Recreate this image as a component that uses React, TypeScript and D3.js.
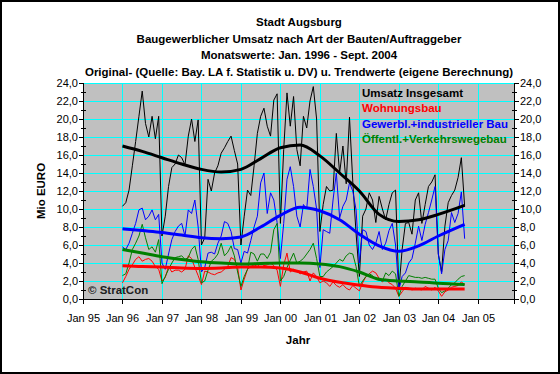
import { useRef, useEffect } from "react";
import * as d3 from "d3";

// monthly values Jan 1996 .. Sept 2004 (Mio EURO)
const firstMonth = 12; // months since Jan 1995
const totalValues = [
  10.3, 10.7, 12.1, 14.8, 17.5, 20.3, 23.1, 19.5, 18.0, 20.3, 17.8, 20.3,
  7.0, 9.2, 12.5, 14.6, 15.0, 16.0, 15.7, 14.9, 18.1, 20.0, 17.5, 19.9,
  6.0, 6.8, 13.3, 12.0, 14.0, 14.8, 16.2, 16.8, 17.5, 18.1, 16.5, 15.0,
  6.0, 9.2, 12.1, 11.5, 14.8, 18.4, 20.3, 21.2, 19.2, 18.1, 22.1, 22.8,
  8.4, 16.6, 22.9, 19.2, 22.5, 16.6, 14.8, 20.3, 19.0, 22.0, 23.6, 20.0,
  7.5, 10.5, 12.5, 12.0, 12.1, 18.4, 14.0, 17.0, 12.8, 20.2, 13.0, 7.3,
  2.5, 9.2, 10.0, 11.8, 11.0, 8.5, 11.4, 10.0, 8.8, 10.5, 11.8, 12.1,
  1.0, 5.5, 8.4, 8.5, 7.2, 11.0, 11.8, 8.4, 10.5, 12.5, 13.0, 13.8,
  5.0, 3.0, 8.1, 10.7, 11.5, 12.1, 13.5, 15.7, 10.3,
];
const wohnValues = [
  1.8, 2.5, 3.3, 3.8, 4.4, 4.7, 4.2, 4.4, 4.5, 4.2, 3.6, 3.3,
  2.0, 2.4, 3.6, 3.0, 3.2, 3.2, 3.0, 3.3, 4.8, 4.5, 3.5, 2.6,
  1.6, 3.1, 3.0, 2.8, 2.7, 2.9, 3.0, 3.3, 3.6, 4.6, 4.4, 3.5,
  1.0, 2.2, 3.3, 3.6, 3.8, 3.6, 4.0, 3.7, 3.8, 4.0, 3.7, 3.2,
  1.4, 3.8, 5.1, 3.0, 3.3, 3.1, 2.8, 3.0, 3.1, 2.0, 2.9, 2.5,
  1.8, 2.0, 1.8, 1.4, 1.9, 1.5, 1.3, 1.6, 1.2, 1.0, 1.5, 1.2,
  0.9, 1.8, 2.5, 2.8, 3.1, 2.9, 2.3, 1.9, 2.2, 1.8, 1.6, 1.2,
  0.3, 0.8, 1.3, 1.2, 1.0, 1.2, 1.1, 1.0, 1.4, 1.2, 1.0, 1.3,
  0.9, 0.3, 0.8, 1.0, 1.3, 1.4, 1.5, 1.9, 1.6,
];
const gewerbValues = [
  5.8, 5.5, 6.2, 7.3, 8.4, 9.9, 10.1, 8.8, 9.2, 9.9, 8.8, 9.4,
  4.0, 3.3, 5.0, 6.6, 7.5, 8.1, 8.4, 7.0, 9.9, 9.5, 11.0, 8.0,
  3.0, 3.5, 5.1, 5.2, 5.0, 6.2, 7.0, 8.6, 8.4, 7.5, 5.6, 5.5,
  4.0, 5.3, 5.1, 6.5, 8.0, 9.2, 12.9, 14.0, 9.5, 11.8, 11.0, 8.5,
  4.5, 8.4, 13.3, 14.7, 12.5, 9.2, 8.0, 10.5, 10.0, 14.4, 12.5, 10.0,
  3.5, 7.7, 7.5, 7.3, 11.0, 14.0, 9.0, 10.3, 11.0, 12.9, 12.0, 9.9,
  4.0, 7.7, 7.5, 6.0, 5.5, 6.2, 7.5, 5.5, 6.2, 7.6, 8.4, 6.0,
  1.0, 2.5, 2.9, 4.0, 4.5, 6.2, 8.1, 6.5, 8.3, 9.6, 11.0, 12.5,
  5.0, 2.8, 5.5, 6.5, 9.6, 8.5, 9.5, 11.9, 6.7,
];
const oeffValues = [
  2.6, 2.8, 4.0, 5.5, 6.2, 7.0, 8.3, 6.8, 5.5, 5.8, 5.2, 6.6,
  1.7, 2.5, 3.3, 4.0, 4.6, 4.7, 4.8, 4.4, 4.6, 5.5, 5.9, 4.4,
  1.8, 2.0, 3.2, 4.2, 4.5, 5.0, 6.2, 4.8, 5.2, 5.9, 4.8, 3.0,
  1.4, 2.5, 3.3, 5.2, 5.0, 4.2, 5.0, 5.0, 4.5, 5.2, 7.7, 8.4,
  2.0, 2.5, 3.5, 4.3, 5.1, 4.0, 4.2, 4.5, 5.0, 5.5, 6.2, 4.5,
  2.5, 2.5, 3.0, 3.3, 3.6, 4.0, 4.4, 4.2, 4.8, 5.1, 5.0, 3.6,
  1.4, 2.0, 2.5, 2.8, 2.6, 2.2, 2.1, 2.0, 2.9, 2.6, 3.1, 2.8,
  0.3, 1.4, 2.0, 2.6, 2.5, 2.4, 2.4, 2.3, 2.4, 2.3, 2.2, 2.2,
  1.2, 0.7, 0.9, 1.2, 1.6, 1.8, 2.2, 2.5, 2.6,
];

// trend (eigene Berechnung), read at half-year points
const trendMonths = [12, 18, 24, 30, 36, 42, 48, 54, 60, 66, 72, 78, 84, 90, 96, 102, 108, 116];
const totalTrend = [17.0, 16.4, 15.7, 15.0, 14.4, 14.1, 14.4, 15.6, 16.8, 17.1, 15.9, 14.0, 12.0, 9.4, 8.6, 8.8, 9.4, 10.4];
const wohnTrend = [3.7, 3.6, 3.55, 3.45, 3.4, 3.45, 3.55, 3.55, 3.45, 3.0, 2.3, 1.85, 1.55, 1.3, 1.2, 1.1, 1.1, 1.1];
const gewerbTrend = [7.8, 7.6, 7.4, 7.1, 6.8, 6.7, 6.9, 8.0, 9.3, 10.2, 9.8, 8.8, 7.2, 5.9, 5.3, 5.9, 7.0, 8.3];
const oeffTrend = [5.5, 5.1, 4.7, 4.4, 4.15, 4.0, 3.9, 3.95, 4.0, 4.0, 3.9, 3.6, 3.0, 2.2, 2.0, 1.9, 1.75, 1.6];

const seriesNames = ["Umsatz Insgesamt", "Wohnungsbau", "Gewerbl.+industrieller Bau", "Öffentl.+Verkehrswegebau"];
const seriesColors = ["#000000", "#ff0000", "#0000ff", "#008000"];
const yearLabels = ["Jan 95", "Jan 96", "Jan 97", "Jan 98", "Jan 99", "Jan 00", "Jan 01", "Jan 02", "Jan 03", "Jan 04", "Jan 05"];
const yTicks = [0, 2, 4, 6, 8, 10, 12, 14, 16, 18, 20, 22, 24];
const titleLines = [
  "Stadt Augsburg",
  "Baugewerblicher Umsatz nach Art der Bauten/Auftraggeber",
  "Monatswerte: Jan. 1996 - Sept. 2004",
  "Original- (Quelle: Bay. LA f. Statistik u. DV) u. Trendwerte (eigene Berechnung)",
];

const W = 560;
const H = 374;
const font = "'Liberation Sans', Arial, sans-serif";

export default function App() {
  const svgRef = useRef(null);

  useEffect(() => {
    const svg = d3.select(svgRef.current);
    svg.selectAll("*").remove();

    const left = 83, right = 514, top = 83, bottom = 299;
    const x = d3.scaleLinear().domain([0, 131]).range([left, right]);
    const y = d3.scaleLinear().domain([0, 24]).range([bottom, top]);

    svg.append("rect").attr("width", W).attr("height", H).attr("fill", "#fff");
    svg.append("rect").attr("x", 1).attr("y", 1).attr("width", W - 2).attr("height", H - 2)
      .attr("fill", "none").attr("stroke", "#000").attr("stroke-width", 2);

    // titles
    titleLines.forEach((t, i) => {
      svg.append("text").text(t)
        .attr("x", 299).attr("y", 26 + i * 16.5)
        .attr("text-anchor", "middle").attr("font-family", font)
        .attr("font-size", 11.5).attr("font-weight", "bold");
    });

    // plot area
    svg.append("rect").attr("x", left).attr("y", top)
      .attr("width", right - left).attr("height", bottom - top).attr("fill", "#c0c0c0");

    const grid = svg.append("g").attr("stroke", "#00ffff").attr("stroke-width", 1)
      .attr("shape-rendering", "crispEdges");
    yTicks.slice(1).forEach((v) => {
      const yy = Math.round(y(v)) + 0.5;
      grid.append("line").attr("x1", left).attr("x2", right).attr("y1", yy).attr("y2", yy);
    });
    yearLabels.slice(1).forEach((_, i) => {
      const xx = Math.round(x((i + 1) * 12)) + 0.5;
      grid.append("line").attr("x1", xx).attr("x2", xx).attr("y1", top).attr("y2", bottom);
    });

    // axes
    const ax = svg.append("g").attr("stroke", "#000").attr("stroke-width", 1)
      .attr("shape-rendering", "crispEdges");
    ax.append("line").attr("x1", left + 0.5).attr("x2", left + 0.5).attr("y1", top).attr("y2", bottom + 1);
    ax.append("line").attr("x1", right + 0.5).attr("x2", right + 0.5).attr("y1", top).attr("y2", bottom + 1);
    ax.append("line").attr("x1", left).attr("x2", right + 1).attr("y1", bottom + 0.5).attr("y2", bottom + 0.5);

    d3.range(0, 25, 1).forEach((v) => {
      const yy = Math.round(y(v)) + 0.5;
      if (v % 2 === 0) {
        ax.append("line").attr("x1", left - 4).attr("x2", left).attr("y1", yy).attr("y2", yy);
        ax.append("line").attr("x1", right).attr("x2", right + 5).attr("y1", yy).attr("y2", yy);
      } else {
        ax.append("line").attr("x1", left - 2).attr("x2", left + 3).attr("y1", yy).attr("y2", yy);
        ax.append("line").attr("x1", right - 2).attr("x2", right + 3).attr("y1", yy).attr("y2", yy);
      }
    });
    yearLabels.forEach((lbl, i) => {
      const xx = Math.round(x(i * 12)) + 0.5;
      ax.append("line").attr("x1", xx).attr("x2", xx).attr("y1", bottom).attr("y2", bottom + 5);
      svg.append("text").text(lbl).attr("x", xx).attr("y", 322)
        .attr("text-anchor", "middle").attr("font-family", font).attr("font-size", 11);
    });
    ax.append("line").attr("x1", right + 0.5).attr("x2", right + 0.5).attr("y1", bottom).attr("y2", bottom + 5);

    const fmt = (v: number) => v.toFixed(1).replace(".", ",");
    yTicks.forEach((v) => {
      svg.append("text").text(fmt(v)).attr("x", 78).attr("y", y(v) + 4)
        .attr("text-anchor", "end").attr("font-family", font).attr("font-size", 11);
      svg.append("text").text(fmt(v)).attr("x", 520).attr("y", y(v) + 4)
        .attr("font-family", font).attr("font-size", 11);
    });

    // axis titles
    svg.append("text").text("Jahr").attr("x", 298).attr("y", 344)
      .attr("text-anchor", "middle").attr("font-family", font).attr("font-size", 11.5).attr("font-weight", "bold");
    svg.append("text").text("Mio EURO")
      .attr("transform", "translate(45,191) rotate(-90)")
      .attr("text-anchor", "middle").attr("font-family", font).attr("font-size", 11.5).attr("font-weight", "bold");

    svg.append("text").text("© StratCon").attr("x", 88).attr("y", 294)
      .attr("font-family", font).attr("font-size", 11.5).attr("font-weight", "bold").attr("fill", "#202020");

    // data lines
    const raw = [totalValues, wohnValues, gewerbValues, oeffValues];
    const trends = [totalTrend, wohnTrend, gewerbTrend, oeffTrend];
    const thin = d3.line<number>().x((_, i) => x(firstMonth + i)).y((d) => y(d));
    const smooth = d3.line<number>().x((_, i) => x(trendMonths[i])).y((d) => y(d)).curve(d3.curveMonotoneX);

    raw.forEach((vals, k) => {
      svg.append("path").attr("d", thin(vals)).attr("fill", "none")
        .attr("stroke", seriesColors[k]).attr("stroke-width", 1);
    });
    trends.forEach((vals, k) => {
      svg.append("path").attr("d", smooth(vals)).attr("fill", "none")
        .attr("stroke", seriesColors[k]).attr("stroke-width", 3);
    });

    // legend
    seriesNames.forEach((name, k) => {
      svg.append("text").text(name).attr("x", 362).attr("y", 97 + k * 15.3)
        .attr("font-family", font).attr("font-size", 11.5).attr("font-weight", "bold")
        .attr("fill", seriesColors[k]);
    });
  }, []);

  return (
    <div style={{ position: "absolute", left: 0, top: 0 }}>
      <svg ref={svgRef} width={W} height={H} style={{ display: "block" }} />
    </div>
  );
}
